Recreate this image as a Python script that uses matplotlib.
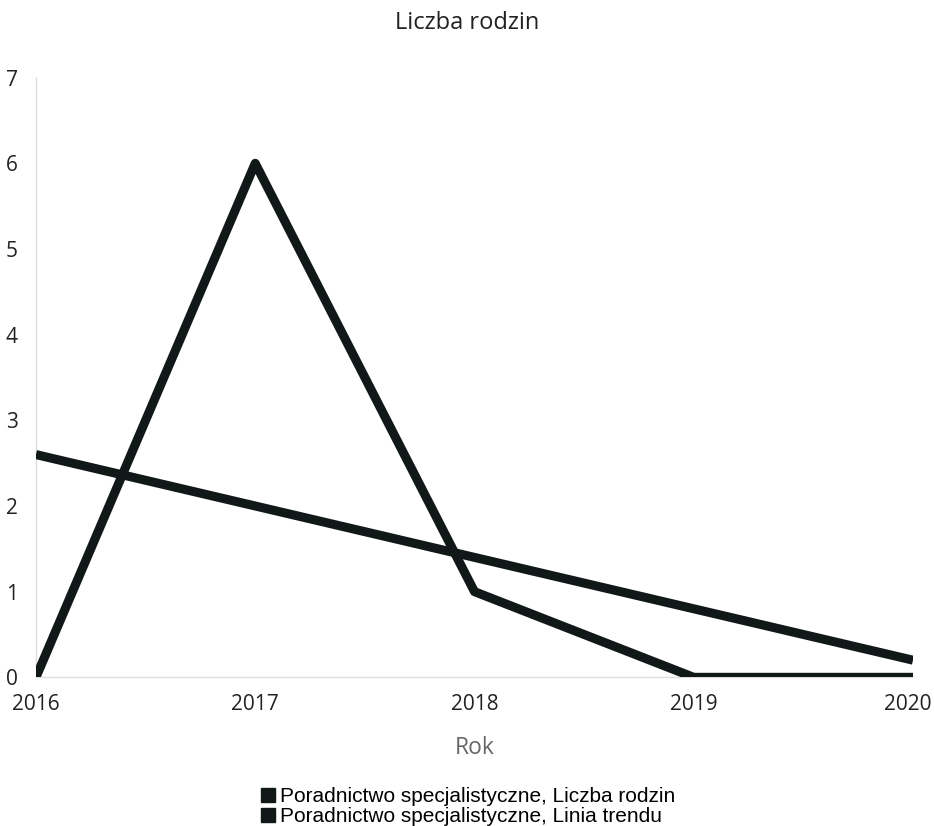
import matplotlib.pyplot as plt
from matplotlib.lines import Line2D
from matplotlib.transforms import ScaledTranslation

years = [2016, 2017, 2018, 2019, 2020]
liczba_rodzin = [0, 6, 1, 0, 0]
linia_trendu = [2.6, 2.0, 1.4, 0.8, 0.2]
labels = ["Poradnictwo specjalistyczne, Liczba rodzin",
          "Poradnictwo specjalistyczne, Linia trendu"]

line_color = "#111818"

fig = plt.figure(figsize=(9.34, 8.26), dpi=100)
ax = fig.add_axes([0.0385, 0.18, 0.939, 0.726])

ax.plot(years, liczba_rodzin, color=line_color, lw=6.5,
        solid_joinstyle="round", solid_capstyle="butt", zorder=3)
ax.plot(years, linia_trendu, color=line_color, lw=6.5,
        solid_capstyle="butt", zorder=3)

ax.set_xlim(2016, 2020)
ax.set_ylim(0, 7)
ax.set_xticks(years)
ax.set_xticklabels([str(y) for y in years], fontsize=15, family="Open Sans",
                   color="#222222")
ax.set_yticks(range(8))
ax.set_yticklabels([str(v) for v in range(8)], fontsize=15, family="Open Sans",
                   color="#222222")
ax.tick_params(axis="x", length=0, pad=12)
ax.tick_params(axis="y", length=0, pad=13)

# keep the last year label inside the figure
last = ax.get_xticklabels()[-1]
last.set_transform(last.get_transform() +
                   ScaledTranslation(-5 / 100, 0, fig.dpi_scale_trans))

for s in ["top", "right"]:
    ax.spines[s].set_visible(False)
ax.spines["left"].set_color("#dddddd")
ax.spines["bottom"].set_color("#dddddd")
ax.spines["left"].set_linewidth(1)
ax.spines["bottom"].set_linewidth(1)

ax.set_xlabel("Rok", fontsize=16.5, family="Open Sans", color="#666666",
              labelpad=15)
fig.text(0.5, 0.972, "Liczba rodzin", ha="center", va="center",
         fontsize=17, family="Open Sans", color="#222222")

handles = [Line2D([], [], ls="", marker="s", markersize=10, color=line_color)
           for _ in labels]
fig.legend(handles, labels, loc="center", bbox_to_anchor=(0.5, 0.0235),
           frameon=False, prop={"family": "Liberation Sans", "size": 15},
           handletextpad=0.1, labelspacing=0.05, handlelength=0.9)

fig.savefig("out.png", dpi=100)
